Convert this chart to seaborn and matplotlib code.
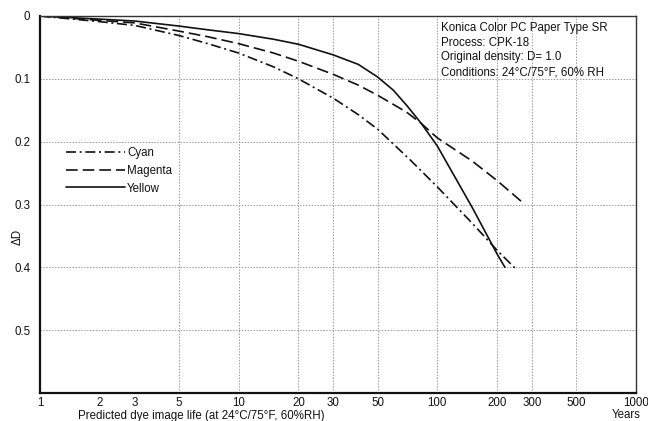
import matplotlib
matplotlib.use("Agg")
import matplotlib.pyplot as plt
import seaborn as sns
import pandas as pd

# ---- data ----
yellow_years = [1, 2, 3, 5, 7, 10, 15, 20, 30, 40, 50, 60, 70, 83, 95, 100, 150, 200, 219]
yellow_dD = [0.0, 0.005, 0.008, 0.016, 0.022, 0.028, 0.037, 0.045, 0.062, 0.077, 0.097,
             0.118, 0.142, 0.171, 0.197, 0.207, 0.305, 0.379, 0.400]

magenta_years = [1, 2, 3, 5, 7, 10, 15, 20, 30, 40, 50, 70, 83, 100, 150, 200, 276]
magenta_dD = [0.0, 0.007, 0.011, 0.024, 0.033, 0.044, 0.059, 0.072, 0.093, 0.110, 0.126,
              0.153, 0.171, 0.194, 0.231, 0.262, 0.300]

cyan_years = [1, 2, 3, 5, 7, 10, 15, 20, 30, 40, 50, 73, 100, 150, 200, 251]
cyan_dD = [0.0, 0.009, 0.015, 0.031, 0.044, 0.059, 0.081, 0.100, 0.131, 0.157, 0.180,
           0.229, 0.272, 0.330, 0.373, 0.404]

x_ticks = [1, 2, 3, 5, 10, 20, 30, 50, 100, 200, 300, 500, 1000]
x_grid = [5, 10, 20, 30, 50, 100, 200, 300, 500]
x_stubs = [2, 3]
y_ticks = [0, 0.1, 0.2, 0.3, 0.4, 0.5]
y_tick_labels = ["0", "0.1", "0.2", "0.3", "0.4", "0.5"]

info_lines = ["Konica Color PC Paper Type SR",
              "Process: CPK-18",
              "Original density: D= 1.0",
              "Conditions: 24°C/75°F, 60% RH"]

sns.set_style("white")
plt.rcParams["font.family"] = ["Liberation Sans", "DejaVu Sans"]

W, H = 648, 421
fig = plt.figure(figsize=(W / 100, H / 100), dpi=100)
ax = fig.add_axes([40 / W, 1 - 393 / H, 596 / W, 377 / H])

fs = 8.3
ink = "#111111"

df_c = pd.DataFrame({"x": cyan_years, "y": cyan_dD})
df_m = pd.DataFrame({"x": magenta_years, "y": magenta_dD})
df_y = pd.DataFrame({"x": yellow_years, "y": yellow_dD})

sns.lineplot(data=df_c, x="x", y="y", ax=ax, color=ink, lw=1.2,
             linestyle=(0, (6, 2.2, 1.2, 2.2)), label="Cyan", sort=False)
sns.lineplot(data=df_m, x="x", y="y", ax=ax, color=ink, lw=1.2,
             linestyle=(0, (7, 3)), label="Magenta", sort=False)
sns.lineplot(data=df_y, x="x", y="y", ax=ax, color=ink, lw=1.2,
             linestyle="-", label="Yellow", sort=False)

ax.set_xscale("log")
ax.set_xlim(1, 1000)
ax.set_ylim(0.6, 0)

# grid
for gx in x_grid:
    ax.axvline(gx, color="#9a9a9a", lw=0.7, linestyle=(0, (1.5, 1.5)), zorder=0)
for gy in y_ticks[1:]:
    ax.axhline(gy, color="#9a9a9a", lw=0.7, linestyle=(0, (1.5, 1.5)), zorder=0)

ax.set_xticks(x_ticks)
ax.set_xticklabels([str(v) for v in x_ticks], fontsize=fs, color=ink)
ax.set_xticks(x_stubs, minor=True)
ax.xaxis.set_minor_formatter(matplotlib.ticker.NullFormatter())
ax.tick_params(axis="x", which="major", length=0, pad=3)
ax.tick_params(axis="x", which="minor", direction="in", length=8, width=0.7, color="#9a9a9a")
ax.set_yticks(y_ticks)
ax.set_yticklabels(y_tick_labels, fontsize=fs, color=ink)
ax.tick_params(axis="y", which="both", length=0, pad=7)

for side in ["left", "bottom"]:
    ax.spines[side].set_linewidth(1.6)
    ax.spines[side].set_color(ink)
for side in ["top", "right"]:
    ax.spines[side].set_linewidth(1.0)
    ax.spines[side].set_color("#333333")

ax.set_xlabel("")
ax.set_ylabel("")
fig.text(78 / W, 1 - 416 / H, "Predicted dye image life (at 24°C/75°F, 60%RH)",
         fontsize=fs, ha="left", va="center", color=ink)
fig.text(626 / W, 1 - 414.5 / H, "Years", fontsize=fs, ha="center", va="center", color=ink)
fig.text(18 / W, 1 - 237 / H, "ΔD", fontsize=fs, rotation=90, ha="center", va="center", color=ink)

ax.text((441 - 40) / 596, 1 - (22 - 16) / 377, "\n".join(info_lines),
        transform=ax.transAxes, fontsize=fs, ha="left", va="top",
        linespacing=1.3, color=ink)

leg = ax.legend(loc="upper left", bbox_to_anchor=(66 / W, 1 - 147 / H),
                bbox_transform=fig.transFigure, frameon=False, fontsize=fs,
                handlelength=5.1, handletextpad=0.2, labelspacing=0.5,
                borderpad=0, borderaxespad=0)
for t in leg.get_texts():
    t.set_color(ink)

fig.savefig("out.png", dpi=100, facecolor="white")
